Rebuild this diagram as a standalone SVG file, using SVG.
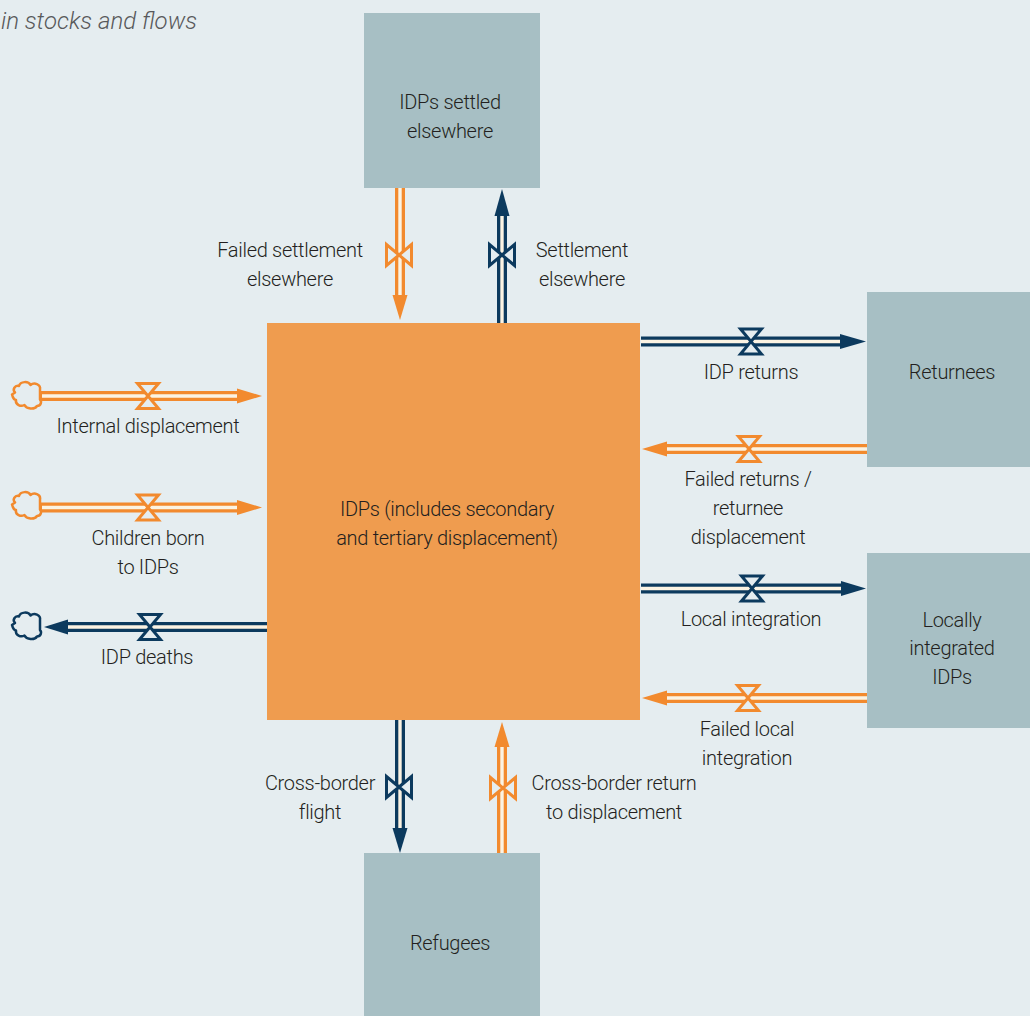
<svg xmlns="http://www.w3.org/2000/svg" width="1030" height="1016" viewBox="0 0 1030 1016">
<style>
.bg{fill:#e5edf0}
.stock{fill:#a7bfc4}
.main{fill:#ef9c4f}
.t{font-family:Roboto,"Liberation Sans",sans-serif;font-size:20px;font-weight:300;letter-spacing:-0.3px;fill:#231f20;text-anchor:middle}
.title{font-family:Roboto,"Liberation Sans",sans-serif;font-size:24px;font-weight:300;font-style:italic;fill:#58595b}
.po{stroke:#f28a2e;stroke-width:10;fill:none}
.pn{stroke:#0c3a5e;stroke-width:10;fill:none}
.pc{stroke:#fbf3e3;stroke-width:3.4;fill:none}
.ao{fill:#f28a2e}
.an{fill:#0c3a5e}
.vo{fill:#e5edf0;stroke:#f28a2e;stroke-width:3;stroke-linejoin:miter}
.vn{fill:#e5edf0;stroke:#0c3a5e;stroke-width:3;stroke-linejoin:miter}
.co{fill:#e5edf0;stroke:#f28a2e;stroke-width:2.5;stroke-linejoin:round}
.cn{fill:#e5edf0;stroke:#0c3a5e;stroke-width:2.5;stroke-linejoin:round}
</style>
<defs>
<path id="valveH" d="M-10.5,-12.5 L10.5,-12.5 L-10.5,12.5 L10.5,12.5 Z"/>
<path id="valveV" d="M-12.5,-10.5 L-12.5,10.5 L12.5,-10.5 L12.5,10.5 Z"/>
<path id="cloud" d="M12.5,-6 C13.5,-11.5 6.5,-13.5 3,-10.5 C1,-14.5 -7,-14.5 -8.5,-9.5 C-12.5,-10.5 -15.5,-6 -12.5,-3 L-15.5,-1 C-14.5,3 -12.5,4.5 -11.5,4.5 C-12.5,9.5 -6.5,11.5 -3,9.5 C-1,13.5 7,14.5 9.5,10.5 C13.5,10.5 14.5,6 12.5,4 Z"/>
</defs>
<rect class="bg" x="0" y="0" width="1030" height="1016"/>
<text class="title" x="1" y="29">in stocks and flows</text>

<g id="connectors">
  <g id="flow-failed-settlement">
    <line class="po" x1="400" y1="188" x2="400" y2="297"/>
    <line class="pc" x1="400" y1="188" x2="400" y2="295"/>
    <polygon class="ao" points="392.5,295 400,320 407.5,295"/>
    <use href="#valveV" class="vo" x="399" y="255"/>
  </g>
  <g id="flow-settlement">
    <line class="pn" x1="502" y1="323" x2="502" y2="214"/>
    <line class="pc" x1="502" y1="323" x2="502" y2="216"/>
    <polygon class="an" points="494.5,216 502,189 509.5,216"/>
    <use href="#valveV" class="vn" x="502" y="255"/>
  </g>
  <g id="flow-internal">
    <line class="po" x1="40" y1="396" x2="239" y2="396"/>
    <line class="pc" x1="42" y1="396" x2="237" y2="396"/>
    <polygon class="ao" points="237,388.5 262,396 237,403.5"/>
    <use href="#valveH" class="vo" x="148" y="396"/>
  </g>
  <g id="flow-children">
    <line class="po" x1="40" y1="507.5" x2="239" y2="507.5"/>
    <line class="pc" x1="42" y1="507.5" x2="237" y2="507.5"/>
    <polygon class="ao" points="237,500 262,507.5 237,515"/>
    <use href="#valveH" class="vo" x="148" y="507.5"/>
  </g>
  <g id="flow-deaths">
    <line class="pn" x1="268" y1="627" x2="66" y2="627"/>
    <line class="pc" x1="268" y1="627" x2="68" y2="627"/>
    <polygon class="an" points="68,619.5 44,627 68,634.5"/>
    <use href="#valveH" class="vn" x="150" y="627"/>
  </g>
  <g id="flow-returns">
    <line class="pn" x1="641" y1="341.5" x2="842" y2="341.5"/>
    <line class="pc" x1="641" y1="341.5" x2="840" y2="341.5"/>
    <polygon class="an" points="840,334 866,341.5 840,349"/>
    <use href="#valveH" class="vn" x="751" y="341.5"/>
  </g>
  <g id="flow-failed-returns">
    <line class="po" x1="867" y1="449" x2="665" y2="449"/>
    <line class="pc" x1="867" y1="449" x2="667" y2="449"/>
    <polygon class="ao" points="667,441.5 642,449 667,456.5"/>
    <use href="#valveH" class="vo" x="749" y="449"/>
  </g>
  <g id="flow-local">
    <line class="pn" x1="641" y1="588.5" x2="843" y2="588.5"/>
    <line class="pc" x1="641" y1="588.5" x2="841" y2="588.5"/>
    <polygon class="an" points="841,581 866,588.5 841,596"/>
    <use href="#valveH" class="vn" x="752" y="588.5"/>
  </g>
  <g id="flow-failed-local">
    <line class="po" x1="867" y1="698" x2="665" y2="698"/>
    <line class="pc" x1="867" y1="698" x2="667" y2="698"/>
    <polygon class="ao" points="667,690.5 642,698 667,705.5"/>
    <use href="#valveH" class="vo" x="748" y="698"/>
  </g>
  <g id="flow-crossborder">
    <line class="pn" x1="400" y1="720" x2="400" y2="830"/>
    <line class="pc" x1="400" y1="720" x2="400" y2="828"/>
    <polygon class="an" points="392.5,828 400,853 407.5,828"/>
    <use href="#valveV" class="vn" x="399" y="787"/>
  </g>
  <g id="flow-crossborder-return">
    <line class="po" x1="502" y1="853" x2="502" y2="745"/>
    <line class="pc" x1="502" y1="853" x2="502" y2="747"/>
    <polygon class="ao" points="494.5,747 502,722 509.5,747"/>
    <use href="#valveV" class="vo" x="503" y="788"/>
  </g>
</g>

<g id="cloud-internal"><use href="#cloud" class="co" x="27.5" y="395.5"/></g>
<g id="cloud-children"><use href="#cloud" class="co" x="27.5" y="505.5"/></g>
<g id="cloud-deaths"><use href="#cloud" class="cn" x="27.5" y="626"/></g>

<g id="node-idps">
  <rect class="main" x="267" y="323" width="373" height="397"/>
  <text class="t" x="447" y="516">IDPs (includes secondary</text>
  <text class="t" x="447" y="545">and tertiary displacement)</text>
</g>
<g id="node-settled">
  <rect class="stock" x="364" y="13" width="176" height="175"/>
  <text class="t" x="450" y="109">IDPs settled</text>
  <text class="t" x="450" y="138">elsewhere</text>
</g>
<g id="node-returnees">
  <rect class="stock" x="867" y="292" width="170" height="175"/>
  <text class="t" x="952" y="379">Returnees</text>
</g>
<g id="node-local">
  <rect class="stock" x="867" y="553" width="170" height="175"/>
  <text class="t" x="952" y="627">Locally</text>
  <text class="t" x="952" y="655">integrated</text>
  <text class="t" x="952" y="684">IDPs</text>
</g>
<g id="node-refugees">
  <rect class="stock" x="364" y="853" width="176" height="170"/>
  <text class="t" x="450" y="950">Refugees</text>
</g>

<g id="labels">
  <text class="t" x="290" y="257">Failed settlement</text>
  <text class="t" x="290" y="286">elsewhere</text>
  <text class="t" x="582" y="257">Settlement</text>
  <text class="t" x="582" y="286">elsewhere</text>
  <text class="t" x="148" y="433">Internal displacement</text>
  <text class="t" x="148" y="545">Children born</text>
  <text class="t" x="148" y="574">to IDPs</text>
  <text class="t" x="147" y="664">IDP deaths</text>
  <text class="t" x="751" y="379">IDP returns</text>
  <text class="t" x="748" y="486">Failed returns /</text>
  <text class="t" x="748" y="515">returnee</text>
  <text class="t" x="748" y="544">displacement</text>
  <text class="t" x="751" y="626">Local integration</text>
  <text class="t" x="747" y="736">Failed local</text>
  <text class="t" x="747" y="765">integration</text>
  <text class="t" x="320" y="790">Cross-border</text>
  <text class="t" x="320" y="819">flight</text>
  <text class="t" x="614" y="790">Cross-border return</text>
  <text class="t" x="614" y="819">to displacement</text>
</g>
</svg>
